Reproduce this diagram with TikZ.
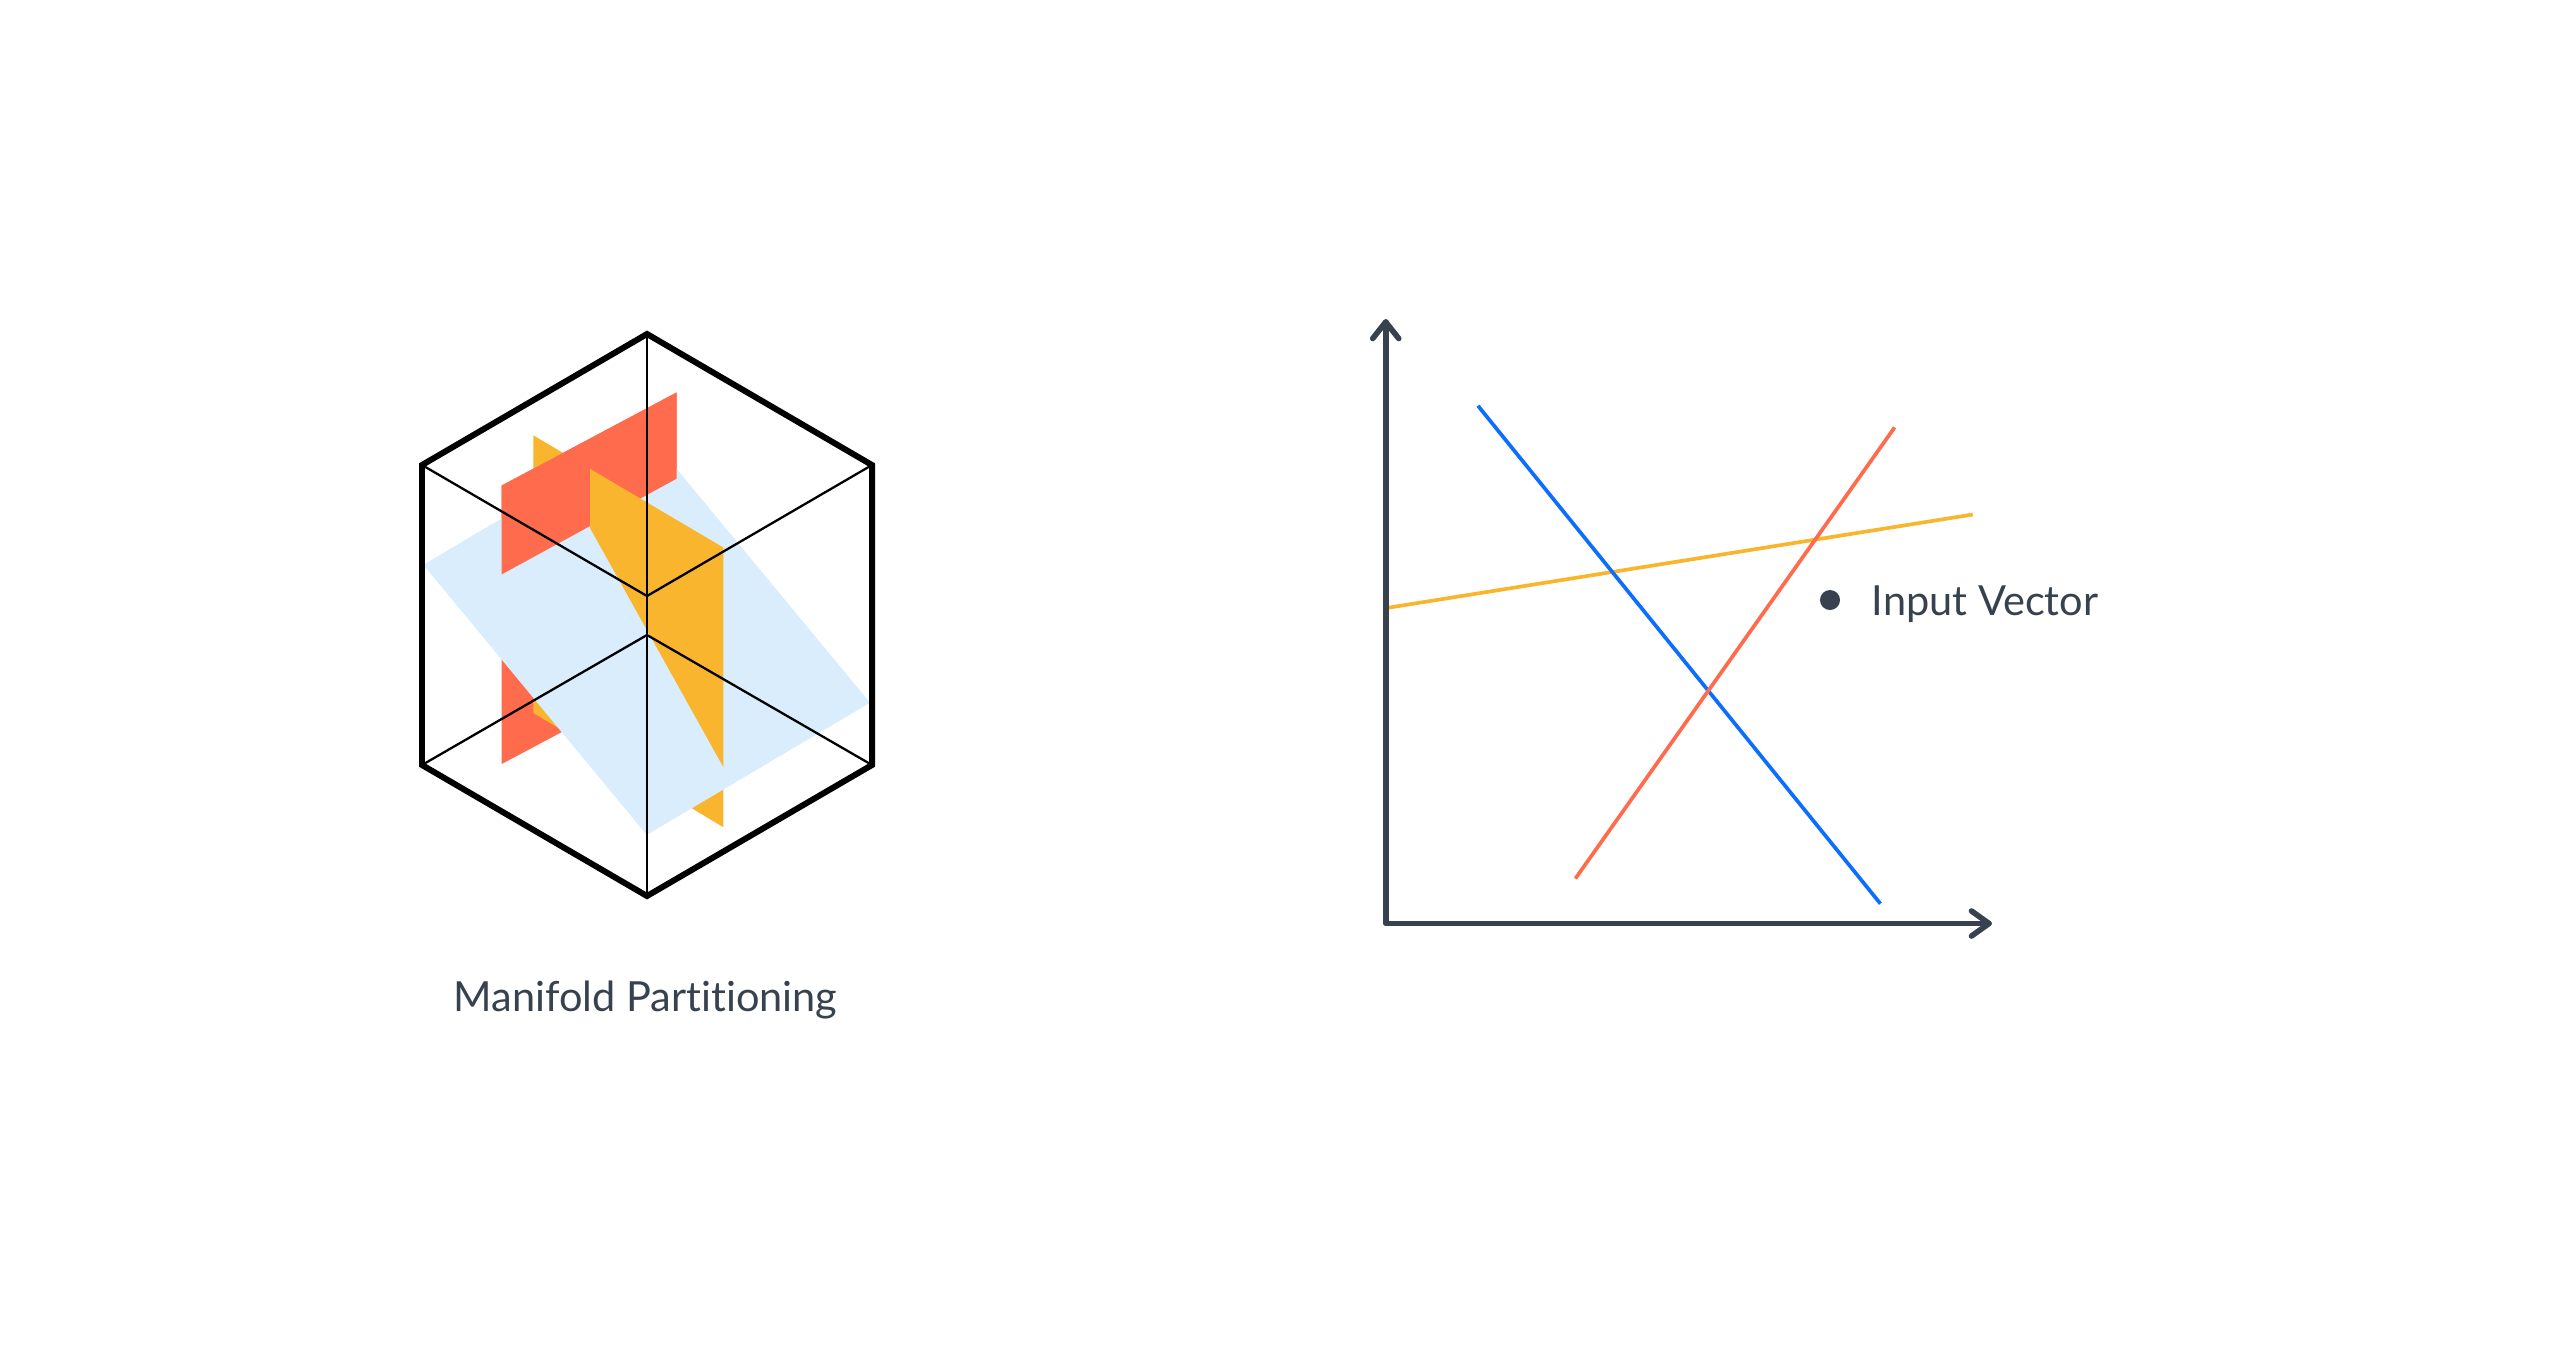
\documentclass[tikz,border=0pt]{standalone}
\usepackage{fontspec}
\setmainfont{Lato}[Ligatures=NoCommon]
\usetikzlibrary{calc}
\definecolor{planered}{HTML}{FF6B4D}
\definecolor{planeyel}{HTML}{F9B52D}
\definecolor{planeblue}{HTML}{D9EDFC}
\definecolor{lineblue}{HTML}{0D6EFD}
\definecolor{axiscol}{HTML}{37424E}
\definecolor{textcol}{HTML}{37424E}
\begin{document}
\begin{tikzpicture}[x=0.01cm,y=-0.01cm,
  hexthick/.style={draw=black,line width=1.7pt,line join=miter},
  wirethin/.style={draw=black,line width=0.65pt},
  axisline/.style={draw=axiscol,line width=1.6pt,line cap=round,line join=round},
  graphline/.style={line width=1.05pt},
  labeltext/.style={text=textcol,font=\fontsize{11.8pt}{13pt}\selectfont,inner sep=0pt}]
\useasboundingbox (0,0) rectangle (2564,1354);
% ---------- cube with partition planes ----------
\coordinate (T) at (647,334);
\coordinate (UL) at (422,465);
\coordinate (UR) at (872,465);
\coordinate (LL) at (422,765);
\coordinate (LR) at (872,765);
\coordinate (B) at (647,896);
\coordinate (I1) at (647,596);
\coordinate (I2) at (647,635);
% red plane (full, behind)
\fill[planered] (501.7,485.5) -- (676.7,392.4) -- (676.7,670.9) -- (501.7,764) -- cycle;
% yellow plane (full, behind)
\fill[planeyel] (533.3,435.3) -- (723.3,547.5) -- (723.3,827.2) -- (533.3,713) -- cycle;
% blue plane
\fill[planeblue] (423.3,564.8) -- (646.7,432.6) -- (870,702.7) -- (646.7,834.9) -- cycle;
% red upper piece in front of blue
\fill[planered] (501.7,485.5) -- (676.7,392.4) -- (676.7,478.6) -- (501.7,574.4) -- cycle;
% yellow upper piece in front of blue and red
\fill[planeyel] (590,468.8) -- (723.3,547.5) -- (723.3,767) -- (590,528) -- cycle;
% wireframe
\draw[wirethin] (T) -- (B);
\draw[wirethin] (UL) -- (I1) -- (UR);
\draw[wirethin] (LL) -- (I2) -- (LR);
\draw[hexthick] (T) -- (UR) -- (LR) -- (B) -- (LL) -- (UL) -- cycle;
\node[labeltext,anchor=base west] (partlabel) at (453,1011.7) {Manifold Partitioning};
% ---------- graph ----------
\coordinate (O) at (1385.7,923.5);
\coordinate (YT) at (1385.7,322);
\coordinate (XT) at (1989,923.5);
\draw[graphline,planeyel] (1387,607.9) -- (1972.8,514.5);
\draw[graphline,lineblue] (1478,405.8) -- (1880.4,903.7);
\draw[graphline,planered] (1894.6,427.4) -- (1575.4,878.5);
\draw[axisline] (YT) -- (O) -- (XT);
\draw[axisline] ($(YT)+(-13,16.5)$) -- (YT) -- ($(YT)+(13,16.5)$);
\draw[axisline] ($(XT)+(-17.5,-12.5)$) -- (XT) -- ($(XT)+(-17.5,12.5)$);
\fill[axiscol] (1830,600) circle (10);
\node[labeltext,anchor=base west] (inputlabel) at (1871,615) {Input Vector};
\end{tikzpicture}
\end{document}
